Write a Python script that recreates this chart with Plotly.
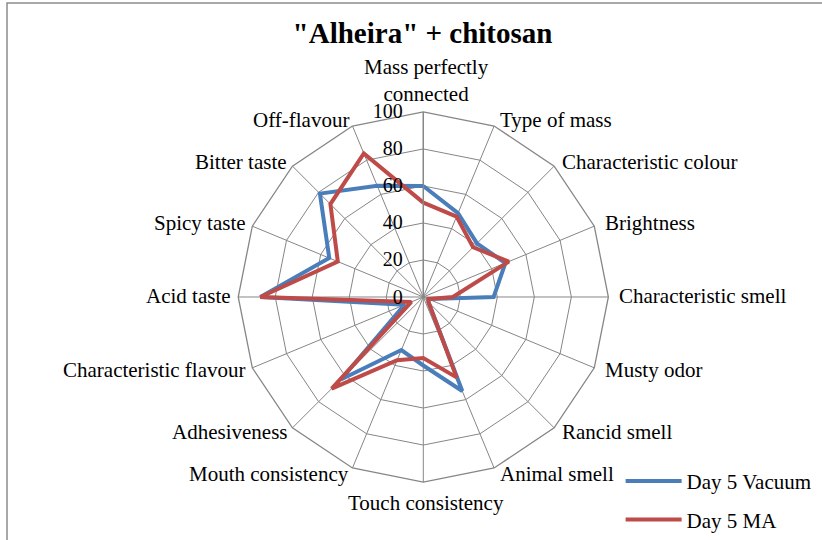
import math
import plotly.graph_objects as go

# Sensory attributes, clockwise from the top of the radar
categories = [
    "Mass perfectly<br>connected",
    "Type of mass",
    "Characteristic colour",
    "Brightness",
    "Characteristic smell",
    "Musty odor",
    "Rancid smell",
    "Animal smell",
    "Touch consistency",
    "Mouth consistency",
    "Adhesiveness",
    "Characteristic flavour",
    "Acid taste",
    "Spicy taste",
    "Bitter taste",
    "Off-flavour",
]

day5_vacuum = [60, 49, 41, 48, 38, 3, 4, 55, 37, 31, 63, 11, 88, 55, 79, 65]
day5_ma = [51, 47, 38, 50, 16, 3, 4, 47, 33, 37, 70, 7, 88, 50, 71, 84]

radial_ticks = [0, 20, 40, 60, 80, 100]

series = [
    ("Day 5 Vacuum", day5_vacuum, "#4A7EBB"),
    ("Day 5 MA", day5_ma, "#BE4B48"),
]

SERIF = "Liberation Serif, Times New Roman, serif"
GRID = "#868686"
LABEL_SIZE = 21

W, H = 822, 540
cx, cy, R = 423.3, 296.7, 186.0   # radar centre and outer radius (px)
dom_cy, dom_R = cy + 4.2, R + 1.5  # domain box that yields that radar

fig = go.Figure()
for i, (name, vals, color) in enumerate(series):
    fig.add_trace(go.Scatterpolar(
        r=vals + vals[:1],
        theta=categories + categories[:1],
        mode="lines",
        name=name,
        legendgroup=f"g{i}",
        line=dict(color=color, width=4),
        hoverinfo="skip",
    ))

# Category captions placed just outside each spoke tip of the outer polygon
annotations = []
n = len(categories)
for i, label in enumerate(categories):
    theta = math.radians(90 - 360 * i / n)
    c, s = math.cos(theta), math.sin(theta)
    vx, vy = cx + R * c, cy - R * s
    lift = 7 if s > 0 else 9
    if abs(c) < 1e-6:
        x = vx + 3
        y = (vy - 33 if s > 0 else vy + 23) + 3.5
        xanchor = "center"
    elif c > 0:
        x, y = vx + 8 * c, vy - lift * s + 3.5
        xanchor = "left"
    else:
        x, y = vx + 4 * c, vy - lift * s + 3.5
        xanchor = "right"
    annotations.append(dict(
        text=label, x=x / W, y=1 - y / H, xref="paper", yref="paper",
        xanchor=xanchor, yanchor="middle", showarrow=False, align="center",
        font=dict(family=SERIF, size=LABEL_SIZE, color="black"),
    ))

fig.update_layout(
    width=W,
    height=H,
    margin=dict(l=0, r=0, t=0, b=0),
    paper_bgcolor="white",
    plot_bgcolor="white",
    font=dict(family=SERIF, size=LABEL_SIZE, color="black"),
    title=dict(
        text='<b>"Alheira" + chitosan</b>',
        x=0.514, xanchor="center",
        y=1 - 33 / H, yanchor="middle",
        font=dict(family=SERIF, size=29, color="black"),
    ),
    polar=dict(
        domain=dict(
            x=[(cx - dom_R) / W, (cx + dom_R) / W],
            y=[(H - dom_cy - dom_R) / H, (H - dom_cy + dom_R) / H],
        ),
        gridshape="linear",
        bgcolor="white",
        angularaxis=dict(
            direction="clockwise",
            rotation=90,
            showline=True,
            linecolor=GRID,
            linewidth=1.3,
            gridcolor=GRID,
            gridwidth=1.3,
            ticks="",
            showticklabels=False,
        ),
        radialaxis=dict(
            range=[0, 100],
            tickvals=radial_ticks,
            ticktext=[str(v) for v in radial_ticks],
            angle=90,
            tickangle=90,
            side="counterclockwise",
            showline=True,
            linecolor=GRID,
            linewidth=1.3,
            gridcolor=GRID,
            gridwidth=1.3,
            ticks="outside",
            ticklen=13,
            tickcolor="rgba(0,0,0,0)",
            tickfont=dict(family=SERIF, size=20, color="black"),
        ),
    ),
    annotations=annotations,
    showlegend=True,
    legend=dict(
        x=0.755, xanchor="left",
        y=1 - 467 / H, yanchor="top",
        bgcolor="rgba(0,0,0,0)",
        font=dict(family=SERIF, size=LABEL_SIZE, color="black"),
        tracegroupgap=8,
        itemwidth=56,
    ),
    shapes=[
        dict(
            type="rect", xref="paper", yref="paper",
            x0=7 / W, x1=1.02, y0=-0.02, y1=1 - 3 / H,
            line=dict(color="#8c8c8c", width=1.5),
            fillcolor="rgba(0,0,0,0)",
            layer="below",
        )
    ],
)

fig.write_html("out.html")
